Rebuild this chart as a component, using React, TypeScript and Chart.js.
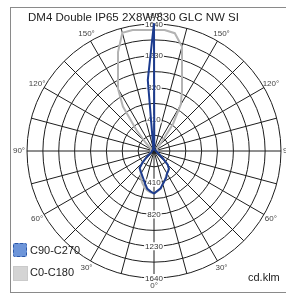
import React, { useEffect, useRef } from "react";
import { Chart, registerables } from "chart.js";

Chart.register(...registerables);

// Gamma angles (deg): 0 = down, 90 = left, 180 = up, 270 = right
const ANGLES = [
  0, 5, 10, 15, 20, 25, 30, 35, 40, 45, 50, 55, 60, 65, 70, 75, 80, 85,
  90, 95, 100, 105, 110, 115, 120, 125, 130, 135, 140, 145, 150, 155, 160, 165, 170, 175,
  180, 185, 190, 195, 200, 205, 210, 215, 220, 225, 230, 235, 240, 245, 250, 255, 260, 265,
  270, 275, 280, 285, 290, 295, 300, 305, 310, 315, 320, 325, 330, 335, 340, 345, 350, 355,
];

// C90-C270 (cd/klm)
const C90_C270 = [
  549, 523, 497, 440, 392, 356, 328, 306, 289, 210, 120, 70, 50, 40, 35, 32, 30, 28,
  26, 25, 24, 23, 22, 22, 22, 22, 22, 22, 22, 22, 22, 25, 30, 40, 60, 920,
  1650, 40, 30, 25, 22, 22, 22, 22, 22, 22, 22, 22, 22, 22, 22, 22, 22, 22,
  25, 28, 32, 38, 45, 55, 60, 90, 150, 250, 300, 317, 336, 375, 405, 440, 490, 515,
];

// C0-C180 (cd/klm)
const C0_C180 = [
  550, 535, 515, 480, 440, 395, 340, 306, 289, 215, 120, 70, 50, 42, 40, 40, 40, 40,
  40, 40, 40, 40, 40, 40, 40, 45, 60, 150, 350, 700, 930, 1100, 1359, 1580, 1586, 1568,
  1563, 1568, 1545, 1397, 1057, 856, 690, 430, 170, 80, 50, 45, 45, 45, 45, 45, 45, 45,
  45, 45, 45, 45, 45, 50, 60, 90, 150, 250, 300, 317, 336, 365, 400, 440, 495, 520,
];

const RADIAL_TICKS = [410, 820, 1230, 1640];
const SERIES_NAMES = ["C90-C270", "C0-C180"];
const TITLE = "DM4 Double IP65 2X8W/830 GLC NW SI";
const UNIT = "cd.klm";

const FONT = '"Liberation Sans", Arial, sans-serif';

const overlayPlugin = {
  id: "polarOverlay",
  beforeDatasetsDraw(chart: any) {
    const s = chart.scales.r;
    const ctx = chart.ctx;
    ctx.save();
    ctx.font = `8px ${FONT}`;
    ctx.textAlign = "center";
    ctx.textBaseline = "middle";
    // radial value labels along the vertical axis (up and down)
    const upIdx = ANGLES.indexOf(180);
    const downIdx = ANGLES.indexOf(0);
    for (const idx of [upIdx, downIdx]) {
      for (const v of RADIAL_TICKS) {
        const p = s.getPointPosition(idx, s.getDistanceFromCenterForValue(v));
        const txt = String(v);
        const w = ctx.measureText(txt).width;
        ctx.fillStyle = "#ffffff";
        ctx.fillRect(p.x - w / 2 - 1, p.y - 4, w + 2, 8);
        ctx.fillStyle = "#333333";
        ctx.fillText(txt, p.x, p.y + 0.5);
      }
    }
    // angle labels
    for (let i = 0; i < ANGLES.length; i++) {
      const a = ANGLES[i];
      if (a % 30 !== 0) continue;
      const shown = a > 180 ? 360 - a : a;
      const p = s.getPointPosition(i, s.drawingArea + 8);
      ctx.fillStyle = "#444444";
      ctx.fillText(shown + "°", p.x, p.y);
    }
    ctx.restore();
  },
};

export default function App() {
  const ref = useRef<HTMLCanvasElement | null>(null);

  useEffect(() => {
    if (!ref.current) return;
    const chart = new Chart(ref.current, {
      type: "radar",
      data: {
        labels: ANGLES.map((a) => String(a)),
        datasets: [
          {
            label: SERIES_NAMES[0],
            data: C90_C270,
            borderColor: "#1d3c8f",
            borderWidth: 2,
            pointRadius: 0,
            fill: false,
            tension: 0,
          },
          {
            label: SERIES_NAMES[1],
            data: C0_C180,
            borderColor: "#b3b3b3",
            borderWidth: 2,
            pointRadius: 0,
            fill: false,
            tension: 0,
          },
        ],
      },
      options: {
        responsive: false,
        animation: false,
        devicePixelRatio: 1,
        layout: { padding: { left: 27, top: 24, right: 5, bottom: 16 } },
        plugins: {
          legend: { display: false },
          title: { display: false },
          tooltip: { enabled: false },
        },
        scales: {
          r: {
            min: 0,
            max: 1640,
            startAngle: 180,
            ticks: { display: false, stepSize: 205 },
            pointLabels: { display: false },
            grid: { circular: true, color: "#1e1e1e", lineWidth: 1 },
            angleLines: {
              color: "#1e1e1e",
              lineWidth: (c: any) => (ANGLES[c.index] % 15 === 0 ? 1 : 0),
            },
          },
        },
      },
      plugins: [overlayPlugin],
    });
    return () => chart.destroy();
  }, []);

  return (
    <div
      style={{
        position: "fixed",
        left: 0,
        top: 0,
        width: 286,
        height: 294,
        overflow: "hidden",
        background: "#fff",
        fontFamily: FONT,
      }}
    >
      <canvas
        ref={ref}
        width={286}
        height={294}
        style={{ position: "absolute", left: 0, top: 0, width: 286, height: 294 }}
      />
      <div
        style={{
          position: "absolute",
          left: 10,
          top: 7,
          width: 300,
          height: 284,
          border: "1px solid #8a8a8a",
          pointerEvents: "none",
        }}
      />
      <div
        style={{
          position: "absolute",
          left: 28,
          top: 10,
          fontSize: 11.5,
          lineHeight: "15px",
          color: "#222",
          whiteSpace: "nowrap",
        }}
      >
        {TITLE}
      </div>
      <div
        style={{
          position: "absolute",
          left: 13,
          top: 243,
          width: 12,
          height: 12,
          background: "#6d95d9",
          border: "1px dashed #2b56a6",
          borderRadius: 2,
        }}
      />
      <div
        style={{
          position: "absolute",
          left: 30,
          top: 243,
          fontSize: 11,
          lineHeight: "15px",
          color: "#222",
        }}
      >
        {SERIES_NAMES[0]}
      </div>
      <div
        style={{
          position: "absolute",
          left: 13,
          top: 266,
          width: 13,
          height: 13,
          background: "#d4d4d4",
          border: "1px solid #cacaca",
        }}
      />
      <div
        style={{
          position: "absolute",
          left: 30,
          top: 265,
          fontSize: 11,
          lineHeight: "15px",
          color: "#222",
        }}
      >
        {SERIES_NAMES[1]}
      </div>
      <div
        style={{
          position: "absolute",
          left: 248,
          top: 270,
          fontSize: 11,
          lineHeight: "15px",
          color: "#222",
        }}
      >
        {UNIT}
      </div>
    </div>
  );
}
